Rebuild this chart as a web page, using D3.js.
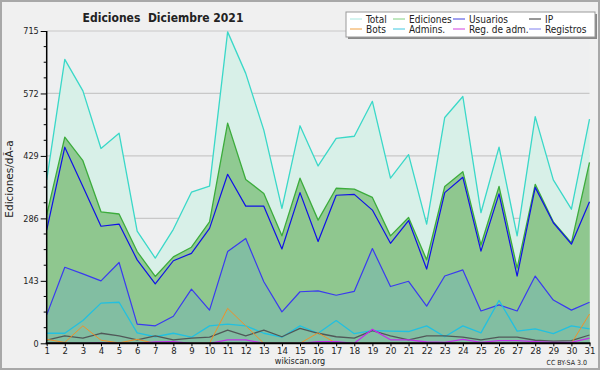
<!DOCTYPE html>
<html><head><meta charset="utf-8">
<script src="https://cdn.jsdelivr.net/npm/d3@7"></script>
<style>
html,body{margin:0;padding:0;background:#f0f0f0;}
svg{display:block;}
text{font-family:"DejaVu Sans Condensed","DejaVu Sans",sans-serif;fill:#222;}
</style></head>
<body>
<svg id="c" width="600" height="370"></svg>
<script>
const days = d3.range(1, 32);
const total     = [374,650,578,446,481,257,195,261,346,360,713,618,488,309,498,406,469,474,554,378,432,273,517,565,299,449,246,519,374,307,513];
const ediciones = [294,472,418,301,296,210,153,198,220,278,504,375,343,246,378,282,355,353,334,246,288,191,359,393,225,359,172,364,278,230,414];
const usuarios  = [259,449,359,268,273,191,136,189,206,263,387,314,314,216,345,233,339,341,305,229,281,170,345,380,211,342,154,357,276,227,324];
const registros = [65,174,159,143,185,44,40,62,124,76,210,240,141,72,118,120,110,119,217,130,142,85,154,168,74,88,74,154,99,76,94];
const admins    = [23,23,52,92,94,24,15,23,14,40,44,40,23,14,40,23,52,22,29,28,27,40,15,40,24,98,28,33,22,40,33];
const ip        = [7,17,12,23,17,8,17,8,12,14,30,17,30,15,34,23,15,12,29,17,8,17,17,14,8,14,14,7,5,6,19];
const bots      = [9,2,40,7,1,9,0,0,0,0,80,40,0,0,0,24,0,0,0,0,0,0,0,0,0,0,0,0,0,0,67];
const regAdm    = [0,0,0,1,0,0,3,4,0,0,8,8,0,0,0,4,4,0,32,8,8,3,2,9,2,6,6,4,2,2,12];
const yTicks = [0,143,286,429,572,715];
const legendNames = ["Total","Ediciones","Usuarios","IP","Bots","Admins.","Reg. de adm.","Registros"];

const svg = d3.select("#c");
const W = 600, H = 370;
const x = d3.scaleLinear().domain([1,31]).range([46.7,589.5]);
const y = d3.scaleLinear().domain([0,715]).range([343.3,31]);

// page border
svg.append("rect").attr("x",1).attr("y",1).attr("width",W-2).attr("height",H-2)
  .attr("fill","#f0f0f0").attr("stroke","#a8a8a8").attr("stroke-width",2);
// plot bg
svg.append("rect").attr("x",x(1)).attr("y",y(715)).attr("width",x(31)-x(1)).attr("height",y(0)-y(715))
  .attr("fill","#eeeff0");
// grid
svg.append("g").selectAll("line").data(yTicks.slice(1)).join("line")
  .attr("x1",x(1)).attr("x2",x(31)).attr("y1",d=>y(d)).attr("y2",d=>y(d))
  .attr("stroke","#c8c8c8").attr("stroke-width",1.2);

const area = arr => d3.area().x((d,i)=>x(days[i])).y0(y(0)).y1(d=>y(d))(arr);
const line = arr => d3.line().x((d,i)=>x(days[i])).y(d=>y(d))(arr);

svg.append("path").attr("d",area(total)).attr("fill","#d8f0e8");
svg.append("path").attr("d",area(ediciones)).attr("fill","#90ca92");
svg.append("path").attr("d",area(usuarios)).attr("fill","#8fc78f");
svg.append("path").attr("d",area(registros)).attr("fill","#82bea2");

const series = [
  [total,"#3ad8c8",1.3],
  [ediciones,"#3cac3c",1.3],
  [usuarios,"#1010e8",1.2],
  [registros,"#3a3af0",1.2],
  [admins,"#22c0e0",1.3],
  [ip,"#505858",1.3],
  [bots,"#f09028",1],
  [regAdm,"#c030e8",1.3]
];
series.forEach(([arr,c,w])=>{
  svg.append("path").attr("d",line(arr)).attr("fill","none").attr("stroke",c).attr("stroke-width",w)
    .attr("stroke-linejoin","round");
});

// y axis
const ya = d3.axisLeft(y).tickValues(yTicks).tickSize(6).tickPadding(2).tickFormat(d3.format("d"));
const yg = svg.append("g").attr("transform",`translate(${x(1)},0)`).call(ya);
yg.select(".domain").remove();
yg.selectAll("text").style("font-size","9px").attr("fill","#222");
const minor = d3.range(0,715.01,35.75).filter(v=>yTicks.indexOf(v)<0);
svg.append("g").selectAll("line").data(minor).join("line")
  .attr("x1",x(1)-3).attr("x2",x(1)).attr("y1",d=>y(d)).attr("y2",d=>y(d)).attr("stroke","#000");
svg.append("line").attr("x1",x(1)).attr("x2",x(1)).attr("y1",y(715)).attr("y2",y(0)+1).attr("stroke","#000").attr("stroke-width",1.5);

// x axis
const xa = d3.axisBottom(x).tickValues(days).tickSize(3).tickPadding(1).tickFormat(d3.format("d"));
const xg = svg.append("g").attr("transform",`translate(0,${y(0)})`).call(xa);
xg.select(".domain").remove();
xg.selectAll("text").style("font-size","9.5px").attr("fill","#222");
svg.append("line").attr("x1",x(1)-1).attr("x2",x(31)+1).attr("y1",y(0)).attr("y2",y(0)).attr("stroke","#000").attr("stroke-width",2);

// title
svg.append("text").attr("x",163).attr("y",22).attr("text-anchor","middle")
  .style("font-size","12px").style("font-weight","bold").attr("fill","#111")
  .text("Ediciones  Diciembre 2021").attr("xml:space","preserve").style("white-space","pre");

// y label
svg.append("text").attr("transform","translate(13,179) rotate(-90)").attr("text-anchor","middle")
  .style("font-family","'DejaVu Sans',sans-serif").style("font-size","10.5px").text("Ediciones/dÃ-a");

// footer
svg.append("text").attr("x",300).attr("y",364).attr("text-anchor","middle").style("font-size","9px").text("wikiscan.org");
svg.append("text").attr("x",587).attr("y",365).attr("text-anchor","end").style("font-size","7px").text("CC BY-SA 3.0");

// legend
const lg = svg.append("g");
lg.append("rect").attr("x",348).attr("y",14).attr("width",249).attr("height",25).attr("fill","#888");
lg.append("rect").attr("x",346).attr("y",12).attr("width",249).attr("height",25).attr("fill","#fff").attr("stroke","#999").attr("stroke-width",1);
const legendColors = ["#a8e8e0","#80d080","#4040e0","#303030","#f0a040","#40c8e0","#d040e0","#8080f0"];
const colX = [350,393,453,529];
const rowY = [19,29];
legendNames.forEach((n,i)=>{
  const cx = colX[i%4], cy = rowY[Math.floor(i/4)];
  lg.append("line").attr("x1",cx).attr("x2",cx+12).attr("y1",cy).attr("y2",cy).attr("stroke",legendColors[i]).attr("stroke-width",1);
  lg.append("text").attr("x",cx+16).attr("y",cy+3.5).style("font-size","10px").text(n);
});
</script>
</body></html>
